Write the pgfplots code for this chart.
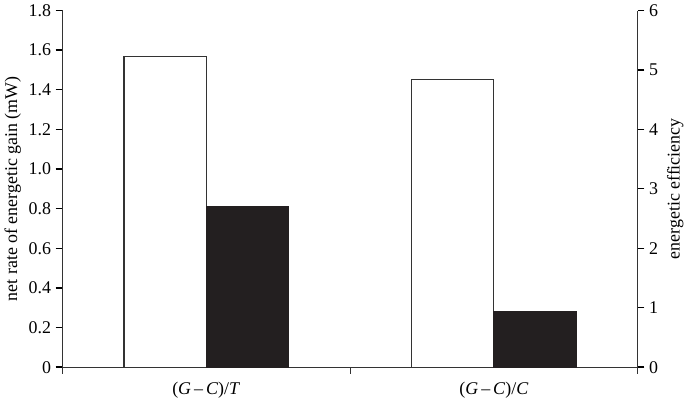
\documentclass[border=0pt]{standalone}
\usepackage{pgfplots}
\pgfplotsset{compat=1.18}
\usepackage{fontspec}
\setmainfont{Liberation Serif}
\definecolor{barblack}{HTML}{231F20}
\definecolor{edge}{HTML}{333333}

\begin{document}
\begin{tikzpicture}[font=\fontsize{13.5}{15}\selectfont]
  \pgfplotsset{
    every axis/.style={
      width=434pt, height=269pt, scale only axis,
      xmin=-0.5, xmax=1.5,
      ymin=0,
      axis line style={edge, line width=0.8pt},
      major tick length=5pt,
      tick align=outside,
      /pgf/number format/assume math mode=true,
    }
  }
  \begin{axis}[
      ymax=1.8,
      axis y line*=left,
      axis x line*=bottom,
      ytick pos=left,
      xtick style={draw=edge, line width=0.8pt},
      ytick style={draw=black, line width=1pt},
      ytick={0,0.2,0.4,0.6,0.8,1.0,1.2,1.4,1.6,1.8},
      yticklabels={0,0.2,0.4,0.6,0.8,1.0,1.2,1.4,1.6,1.8},
      xtick={-0.5,0.5,1.5},
      xticklabels={},
      extra x ticks={0,1},
      extra x tick labels={(\textit{G}\,–\,\textit{C})/\textit{T}, (\textit{G}\,–\,\textit{C})/\textit{C}},
      extra x tick style={major tick length=0pt, xticklabel style={yshift=-8pt}},
      ylabel={net rate of energetic gain (mW)},
      ylabel style={yshift=-1pt},
    ]
    \addplot[ybar, bar width=62pt, bar shift=-31pt, fill=white, draw=edge, line width=0.8pt]
      coordinates {(0,1.57) (1,1.453)};
  \end{axis}
  \begin{axis}[
      ymax=6,
      axis y line*=right,
      axis x line=none,
      ytick pos=right,
      ytick style={draw=black, line width=1pt},
      ytick={0,1,2,3,4,5,6},
      ylabel={energetic efficiency},
    ]
    \addplot[ybar, bar width=62pt, bar shift=31pt, fill=barblack, draw=barblack, line width=0.8pt]
      coordinates {(0,2.71) (1,0.93)};
  \end{axis}
\end{tikzpicture}
\end{document}
